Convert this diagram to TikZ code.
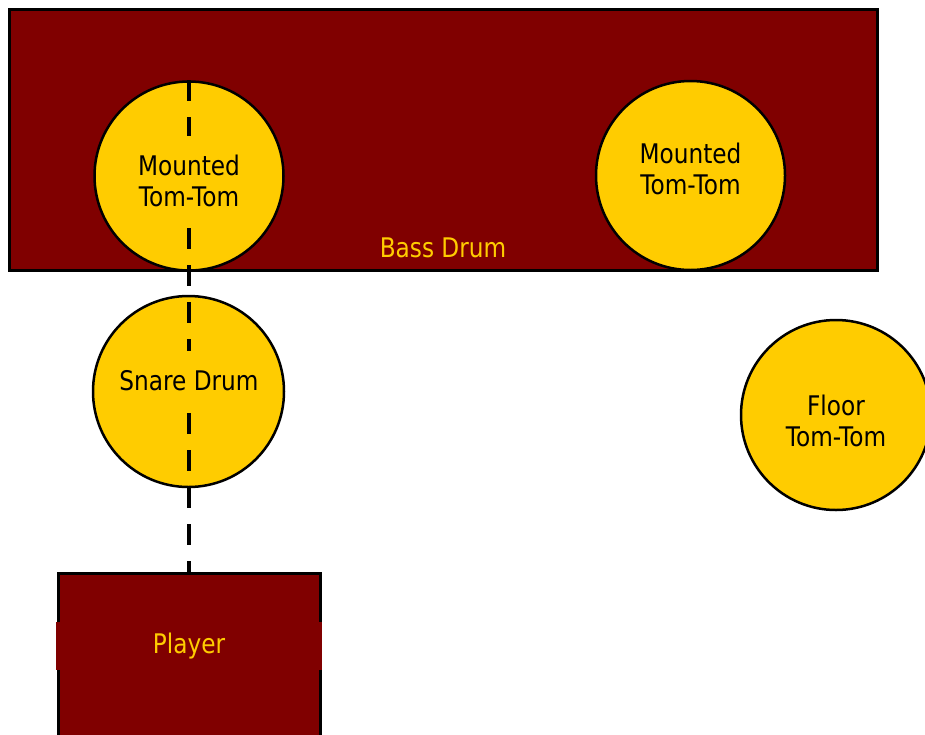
\documentclass[tikz,border=0pt]{standalone}
\usepackage{fontspec}
\setmainfont[FakeStretch=0.86]{DejaVu Sans}
\definecolor{drumred}{HTML}{800000}
\definecolor{drumyellow}{HTML}{FFCC00}
\tikzset{
  drumbox/.style={draw=black, line width=3pt, fill=drumred, rectangle, inner sep=0pt},
  drumhead/.style={draw=black, line width=2.5pt, fill=drumyellow, circle, inner sep=0pt, minimum size=189pt},
  headlabel/.style={fill=drumyellow, text=black, align=center, inner xsep=4pt, inner ysep=0pt},
  boxlabel/.style={fill=drumred, text=drumyellow, align=center, inner sep=0pt},
  sightline/.style={draw=black, line width=4.5pt, dash pattern=on 21pt off 16pt},
}
\begin{document}
\begin{tikzpicture}[x=1pt, y=-1pt, font=\fontsize{27}{31.5}\selectfont]
  \useasboundingbox (0,0) rectangle (925,734);
  \clip (0,0) rectangle (925,734);
  % kit outline: bass drum, toms, snare and the player's seat
  \node[drumbox, minimum width=868pt, minimum height=261pt] (bass) at (443,139.5) {};
  \node[drumhead] (tomL) at (189,176) {};
  \node[drumhead] (tomR) at (690.5,175.5) {};
  \node[drumhead, minimum size=191pt] (snare) at (188.5,391.5) {};
  \node[drumhead, minimum size=190pt] (floor) at (836,415) {};
  \node[drumbox, minimum width=262pt, minimum height=240pt] (player) at (189,693) {};
  % player's line of sight through the snare to the tom
  \draw[sightline] (tomL.north) -- (player.north);
  % labels
  \node[headlabel, minimum height=90pt] (tomLtext) at (189,181) {Mounted\\Tom-Tom};
  \node[headlabel] (tomRtext) at (690.5,169) {Mounted\\Tom-Tom};
  \node[headlabel, minimum height=60pt] (snaretext) at (189,381) {Snare Drum};
  \node[headlabel] (floortext) at (836,421) {Floor\\Tom-Tom};
  \node[boxlabel] (basstext) at (443,248) {Bass Drum};
  \node[boxlabel, minimum width=266pt, minimum height=48pt] (playertext) at (189,646) {Player};
\end{tikzpicture}
\end{document}
